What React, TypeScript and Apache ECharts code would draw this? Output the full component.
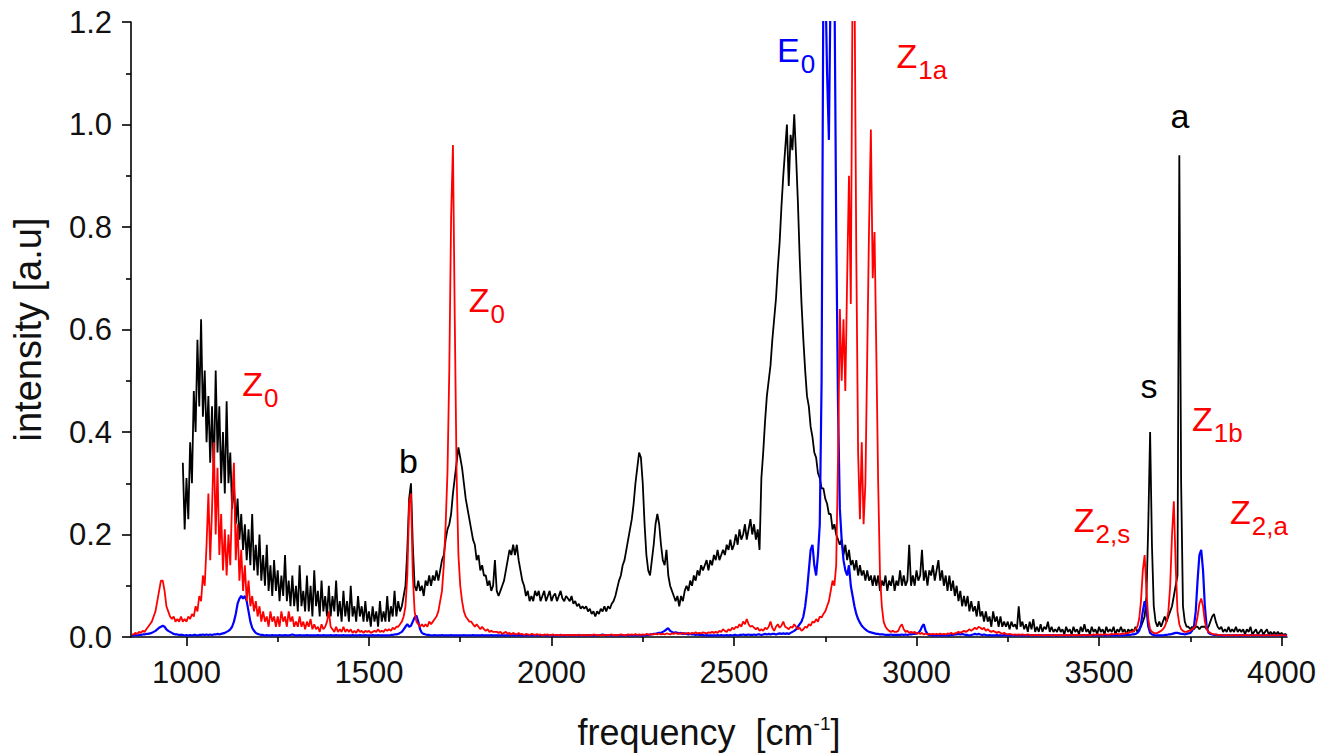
import React, { useEffect, useRef } from "react";
import * as echarts from "echarts";

// sampling grid (cm^-1)
const STEP = 5;
const blackStart = 990;
const redStart = 850;
const blueStart = 850;

// black spectrum, 990 .. 4015 cm^-1, one value per 5 cm^-1 (rows of 100 cm^-1)
const blackIntensity = [
  0.34, 0.21, 0.31, 0.23, 0.38, 0.30, 0.48, 0.40, 0.58, 0.45, 0.62, 0.43, 0.52, 0.38, 0.47, 0.34, 0.45, 0.31, 0.52, 0.36,
  0.45, 0.30, 0.40, 0.28, 0.46, 0.30, 0.36, 0.25, 0.30, 0.22, 0.27, 0.19, 0.24, 0.17, 0.22, 0.15, 0.21, 0.14, 0.24, 0.13,
  0.18, 0.12, 0.20, 0.11, 0.16, 0.10, 0.18, 0.09, 0.14, 0.08, 0.15, 0.09, 0.13, 0.07, 0.12, 0.08, 0.16, 0.07, 0.11, 0.06,
  0.12, 0.06, 0.10, 0.05, 0.14, 0.06, 0.09, 0.05, 0.12, 0.05, 0.10, 0.04, 0.13, 0.06, 0.09, 0.04, 0.11, 0.05, 0.08, 0.04,
  0.10, 0.04, 0.08, 0.05, 0.11, 0.04, 0.07, 0.03, 0.09, 0.04, 0.07, 0.03, 0.10, 0.04, 0.06, 0.03, 0.08, 0.04, 0.06, 0.03,
  0.07, 0.03, 0.05, 0.02, 0.06, 0.03, 0.05, 0.02, 0.07, 0.03, 0.05, 0.03, 0.08, 0.03, 0.06, 0.04, 0.09, 0.04, 0.07, 0.05,
  0.06, 0.08, 0.10, 0.17, 0.27, 0.30, 0.18, 0.10, 0.09, 0.11, 0.09, 0.10, 0.08, 0.11, 0.10, 0.12, 0.10, 0.12, 0.11, 0.13,
  0.11, 0.13, 0.15, 0.16, 0.19, 0.21, 0.22, 0.24, 0.28, 0.31, 0.34, 0.37, 0.35, 0.33, 0.30, 0.27, 0.25, 0.23, 0.21, 0.19,
  0.18, 0.15, 0.16, 0.13, 0.14, 0.12, 0.12, 0.10, 0.11, 0.09, 0.10, 0.15, 0.09, 0.08, 0.09, 0.10, 0.11, 0.13, 0.15, 0.17,
  0.16, 0.18, 0.16, 0.18, 0.15, 0.13, 0.11, 0.10, 0.08, 0.09, 0.07, 0.08, 0.07, 0.09, 0.08, 0.09, 0.07, 0.08, 0.09, 0.07,
  0.08, 0.09, 0.07, 0.08, 0.085, 0.07, 0.08, 0.09, 0.075, 0.07, 0.08, 0.075, 0.07, 0.08, 0.065, 0.07, 0.06, 0.065, 0.055, 0.06,
  0.055, 0.06, 0.05, 0.055, 0.045, 0.05, 0.04, 0.05, 0.045, 0.055, 0.05, 0.06, 0.05, 0.06, 0.055, 0.065, 0.07, 0.08, 0.095, 0.11,
  0.12, 0.14, 0.15, 0.17, 0.19, 0.21, 0.23, 0.26, 0.30, 0.33, 0.36, 0.35, 0.30, 0.22, 0.16, 0.13, 0.12, 0.15, 0.18, 0.22,
  0.24, 0.22, 0.18, 0.15, 0.14, 0.17, 0.12, 0.10, 0.09, 0.08, 0.07, 0.08, 0.06, 0.08, 0.07, 0.09, 0.10, 0.09, 0.11, 0.10,
  0.12, 0.11, 0.13, 0.12, 0.14, 0.13, 0.14, 0.15, 0.13, 0.15, 0.14, 0.16, 0.15, 0.17, 0.15, 0.16, 0.17, 0.16, 0.18, 0.17,
  0.19, 0.17, 0.18, 0.20, 0.18, 0.21, 0.19, 0.20, 0.22, 0.19, 0.21, 0.23, 0.20, 0.22, 0.19, 0.21, 0.17, 0.31, 0.36, 0.42,
  0.47, 0.50, 0.53, 0.58, 0.62, 0.66, 0.72, 0.77, 0.84, 0.90, 0.95, 1.00, 0.88, 0.98, 0.95, 1.02, 0.94, 0.85, 0.74, 0.65,
  0.58, 0.52, 0.47, 0.45, 0.41, 0.39, 0.36, 0.35, 0.32, 0.31, 0.29, 0.29, 0.27, 0.26, 0.24, 0.24, 0.21, 0.22, 0.20, 0.19,
  0.18, 0.19, 0.16, 0.18, 0.15, 0.17, 0.14, 0.15, 0.13, 0.15, 0.12, 0.14, 0.12, 0.13, 0.11, 0.13, 0.11, 0.12, 0.10, 0.12,
  0.10, 0.12, 0.09, 0.11, 0.10, 0.12, 0.09, 0.11, 0.10, 0.12, 0.09, 0.11, 0.10, 0.13, 0.10, 0.12, 0.10, 0.11, 0.18, 0.10,
  0.12, 0.10, 0.13, 0.11, 0.12, 0.17, 0.11, 0.13, 0.10, 0.13, 0.12, 0.14, 0.11, 0.13, 0.15, 0.11, 0.13, 0.10, 0.12, 0.09,
  0.12, 0.09, 0.11, 0.08, 0.10, 0.07, 0.09, 0.06, 0.08, 0.06, 0.08, 0.05, 0.07, 0.05, 0.06, 0.04, 0.07, 0.04, 0.05, 0.03,
  0.05, 0.03, 0.04, 0.02, 0.05, 0.03, 0.04, 0.02, 0.04, 0.02, 0.03, 0.02, 0.03, 0.015, 0.03, 0.02, 0.025, 0.015, 0.06, 0.02,
  0.03, 0.015, 0.025, 0.01, 0.03, 0.015, 0.035, 0.01, 0.02, 0.01, 0.025, 0.01, 0.02, 0.015, 0.03, 0.01, 0.02, 0.01, 0.015, 0.01,
  0.02, 0.01, 0.015, 0.005, 0.02, 0.01, 0.015, 0.005, 0.02, 0.01, 0.015, 0.005, 0.02, 0.01, 0.025, 0.01, 0.015, 0.005, 0.02, 0.01,
  0.015, 0.005, 0.02, 0.01, 0.015, 0.005, 0.02, 0.01, 0.015, 0.01, 0.02, 0.005, 0.015, 0.01, 0.02, 0.01, 0.015, 0.005, 0.015, 0.01,
  0.015, 0.01, 0.02, 0.01, 0.015, 0.02, 0.03, 0.04, 0.08, 0.22, 0.40, 0.18, 0.06, 0.03, 0.02, 0.03, 0.02, 0.03, 0.04, 0.03,
  0.04, 0.05, 0.06, 0.08, 0.10, 0.12, 0.94, 0.30, 0.06, 0.03, 0.02, 0.02, 0.015, 0.02, 0.015, 0.02, 0.02, 0.015, 0.02, 0.02,
  0.02, 0.015, 0.02, 0.03, 0.04, 0.045, 0.03, 0.02, 0.015, 0.02, 0.01, 0.015, 0.01, 0.02, 0.01, 0.015, 0.01, 0.02, 0.01, 0.015,
  0.01, 0.015, 0.005, 0.015, 0.01, 0.02, 0.005, 0.01, 0.015, 0.005, 0.01, 0.015, 0.005, 0.01, 0.015, 0.005, 0.01, 0.005, 0.01, 0.005,
  0.01, 0.005, 0.008, 0.004, 0.006, 0.004,
];

// red spectrum, 850 .. 4015 cm^-1
const redIntensity = [
  0.005, 0.005, 0.008, 0.006, 0.01, 0.008, 0.012, 0.01, 0.015, 0.02, 0.025, 0.03, 0.04, 0.05, 0.07, 0.09, 0.11, 0.11, 0.09, 0.06,
  0.05, 0.04, 0.035, 0.04, 0.03, 0.035, 0.03, 0.04, 0.03, 0.035, 0.03, 0.04, 0.035, 0.045, 0.04, 0.06, 0.05, 0.08, 0.07, 0.12,
  0.10, 0.18, 0.28, 0.15, 0.25, 0.38, 0.20, 0.33, 0.16, 0.24, 0.13, 0.21, 0.12, 0.20, 0.14, 0.27, 0.34, 0.15, 0.22, 0.11,
  0.17, 0.09, 0.14, 0.07, 0.11, 0.06, 0.08, 0.05, 0.07, 0.04, 0.06, 0.03, 0.05, 0.03, 0.04, 0.02, 0.05, 0.03, 0.04, 0.02,
  0.04, 0.02, 0.05, 0.03, 0.04, 0.02, 0.05, 0.03, 0.04, 0.02, 0.03, 0.02, 0.04, 0.02, 0.03, 0.015, 0.03, 0.02, 0.035, 0.015,
  0.025, 0.015, 0.02, 0.01, 0.025, 0.015, 0.02, 0.03, 0.05, 0.02, 0.015, 0.01, 0.02, 0.01, 0.015, 0.01, 0.02, 0.01, 0.015, 0.01,
  0.015, 0.008, 0.012, 0.008, 0.015, 0.01, 0.012, 0.008, 0.012, 0.01, 0.012, 0.008, 0.01, 0.012, 0.01, 0.015, 0.01, 0.012, 0.01, 0.015,
  0.012, 0.015, 0.012, 0.018, 0.015, 0.02, 0.02, 0.025, 0.03, 0.04, 0.06, 0.12, 0.26, 0.28, 0.12, 0.05, 0.03, 0.025, 0.02, 0.025,
  0.02, 0.025, 0.02, 0.03, 0.025, 0.03, 0.035, 0.04, 0.05, 0.07, 0.09, 0.14, 0.22, 0.32, 0.52, 0.82, 0.96, 0.62, 0.32, 0.16,
  0.10, 0.07, 0.05, 0.04, 0.035, 0.03, 0.03, 0.025, 0.02, 0.025, 0.02, 0.015, 0.02, 0.015, 0.012, 0.015, 0.01, 0.012, 0.01, 0.01,
  0.01, 0.008, 0.01, 0.006, 0.008, 0.01, 0.006, 0.008, 0.005, 0.008, 0.006, 0.005, 0.008, 0.005, 0.006, 0.004, 0.006, 0.005, 0.004, 0.006,
  0.005, 0.004, 0.006, 0.004, 0.005, 0.003, 0.005, 0.004, 0.005, 0.003, 0.004, 0.005, 0.003, 0.004, 0.003, 0.005, 0.003, 0.004, 0.003, 0.004,
  0.003, 0.004, 0.003, 0.004, 0.003, 0.005, 0.003, 0.004, 0.003, 0.004, 0.003, 0.004, 0.003, 0.005, 0.004, 0.003, 0.004, 0.003, 0.004, 0.003,
  0.004, 0.003, 0.004, 0.005, 0.003, 0.004, 0.003, 0.004, 0.005, 0.004, 0.003, 0.004, 0.005, 0.004, 0.005, 0.004, 0.006, 0.004, 0.005, 0.004,
  0.005, 0.004, 0.006, 0.005, 0.004, 0.006, 0.005, 0.006, 0.005, 0.007, 0.005, 0.006, 0.005, 0.007, 0.006, 0.005, 0.007, 0.006, 0.008, 0.006,
  0.007, 0.006, 0.008, 0.006, 0.007, 0.008, 0.006, 0.008, 0.007, 0.009, 0.007, 0.008, 0.007, 0.009, 0.008, 0.007, 0.009, 0.008, 0.01, 0.008,
  0.01, 0.008, 0.012, 0.01, 0.015, 0.012, 0.01, 0.015, 0.012, 0.018, 0.015, 0.02, 0.018, 0.025, 0.02, 0.03, 0.025, 0.035, 0.025, 0.02,
  0.022, 0.018, 0.015, 0.018, 0.012, 0.015, 0.012, 0.018, 0.015, 0.02, 0.03, 0.018, 0.012, 0.02, 0.025, 0.018, 0.022, 0.03, 0.02, 0.018,
  0.015, 0.02, 0.018, 0.025, 0.02, 0.015, 0.018, 0.012, 0.015, 0.02, 0.018, 0.025, 0.022, 0.03, 0.028, 0.035, 0.03, 0.04, 0.038, 0.045,
  0.05, 0.06, 0.07, 0.09, 0.11, 0.10, 0.14, 0.35, 0.64, 0.50, 0.62, 0.48, 0.70, 0.90, 0.65, 1.3, 1.3, 0.75, 0.36, 0.23,
  0.38, 0.22, 0.30, 0.55, 0.80, 0.99, 0.70, 0.79, 0.55, 0.30, 0.12, 0.06, 0.03, 0.02, 0.015, 0.012, 0.01, 0.012, 0.01, 0.01,
  0.012, 0.02, 0.025, 0.015, 0.01, 0.012, 0.008, 0.01, 0.008, 0.01, 0.006, 0.008, 0.006, 0.008, 0.005, 0.007, 0.005, 0.006, 0.005, 0.006,
  0.005, 0.006, 0.005, 0.007, 0.005, 0.006, 0.005, 0.007, 0.006, 0.008, 0.006, 0.007, 0.008, 0.01, 0.008, 0.01, 0.012, 0.01, 0.012, 0.015,
  0.012, 0.015, 0.018, 0.015, 0.02, 0.018, 0.015, 0.018, 0.012, 0.015, 0.012, 0.01, 0.012, 0.01, 0.008, 0.01, 0.008, 0.006, 0.008, 0.006,
  0.005, 0.006, 0.005, 0.004, 0.005, 0.004, 0.005, 0.004, 0.005, 0.004, 0.004, 0.005, 0.004, 0.003, 0.004, 0.003, 0.004, 0.003, 0.004, 0.003,
  0.003, 0.004, 0.003, 0.004, 0.003, 0.003, 0.004, 0.003, 0.004, 0.003, 0.003, 0.004, 0.003, 0.004, 0.003, 0.004, 0.003, 0.004, 0.003, 0.004,
  0.003, 0.004, 0.003, 0.004, 0.004, 0.003, 0.004, 0.005, 0.004, 0.005, 0.004, 0.005, 0.004, 0.005, 0.005, 0.004, 0.005, 0.006, 0.005, 0.006,
  0.006, 0.005, 0.006, 0.007, 0.006, 0.008, 0.007, 0.01, 0.01, 0.012, 0.015, 0.02, 0.035, 0.07, 0.13, 0.16, 0.09, 0.035, 0.015, 0.01,
  0.008, 0.007, 0.008, 0.01, 0.012, 0.015, 0.02, 0.03, 0.05, 0.10, 0.20, 0.265, 0.14, 0.05, 0.025, 0.015, 0.012, 0.01, 0.01, 0.012,
  0.012, 0.015, 0.018, 0.022, 0.04, 0.065, 0.075, 0.06, 0.03, 0.015, 0.01, 0.008, 0.006, 0.005, 0.005, 0.004, 0.004, 0.004, 0.003, 0.003,
  0.003, 0.004, 0.003, 0.003, 0.004, 0.003, 0.003, 0.004, 0.003, 0.003, 0.004, 0.003, 0.003, 0.003, 0.004, 0.003, 0.003, 0.004, 0.003, 0.003,
  0.003, 0.003, 0.004, 0.003, 0.003, 0.003, 0.004, 0.003, 0.003, 0.003, 0.004, 0.003, 0.003, 0.003,
];

// blue spectrum, 850 .. 4015 cm^-1
const blueIntensity = [
  0.003, 0.003, 0.004, 0.003, 0.004, 0.004, 0.005, 0.005, 0.006, 0.006, 0.007, 0.008, 0.01, 0.012, 0.015, 0.018, 0.02, 0.022, 0.02, 0.015,
  0.012, 0.01, 0.008, 0.006, 0.005, 0.005, 0.004, 0.004, 0.004, 0.003, 0.004, 0.003, 0.004, 0.003, 0.004, 0.004, 0.003, 0.004, 0.004, 0.005,
  0.004, 0.005, 0.004, 0.005, 0.004, 0.005, 0.005, 0.006, 0.005, 0.006, 0.007, 0.008, 0.01, 0.012, 0.015, 0.02, 0.03, 0.045, 0.065, 0.075,
  0.08, 0.075, 0.08, 0.07, 0.05, 0.03, 0.018, 0.012, 0.008, 0.006, 0.005, 0.004, 0.004, 0.003, 0.004, 0.003, 0.003, 0.004, 0.003, 0.003,
  0.003, 0.004, 0.003, 0.003, 0.004, 0.003, 0.003, 0.004, 0.005, 0.004, 0.003, 0.003, 0.004, 0.003, 0.003, 0.003, 0.004, 0.003, 0.003, 0.003,
  0.003, 0.003, 0.004, 0.003, 0.003, 0.004, 0.003, 0.003, 0.003, 0.004, 0.003, 0.003, 0.004, 0.003, 0.003, 0.003, 0.004, 0.003, 0.003, 0.003,
  0.003, 0.004, 0.003, 0.003, 0.003, 0.004, 0.003, 0.003, 0.004, 0.003, 0.003, 0.003, 0.004, 0.003, 0.003, 0.004, 0.003, 0.003, 0.003, 0.003,
  0.003, 0.003, 0.004, 0.004, 0.005, 0.005, 0.006, 0.008, 0.01, 0.015, 0.02, 0.025, 0.02, 0.022, 0.03, 0.038, 0.042, 0.03, 0.015, 0.008,
  0.006, 0.005, 0.004, 0.004, 0.003, 0.003, 0.004, 0.003, 0.003, 0.003, 0.004, 0.003, 0.003, 0.003, 0.003, 0.004, 0.003, 0.003, 0.003, 0.003,
  0.003, 0.003, 0.004, 0.003, 0.003, 0.003, 0.003, 0.004, 0.003, 0.003, 0.003, 0.003, 0.004, 0.003, 0.003, 0.003, 0.003, 0.004, 0.003, 0.003,
  0.003, 0.003, 0.003, 0.004, 0.003, 0.003, 0.003, 0.003, 0.004, 0.003, 0.003, 0.003, 0.004, 0.003, 0.003, 0.003, 0.003, 0.004, 0.003, 0.003,
  0.003, 0.004, 0.003, 0.003, 0.003, 0.003, 0.004, 0.003, 0.003, 0.003, 0.004, 0.003, 0.003, 0.003, 0.003, 0.004, 0.003, 0.003, 0.003, 0.004,
  0.003, 0.003, 0.003, 0.004, 0.003, 0.003, 0.003, 0.004, 0.003, 0.003, 0.004, 0.003, 0.003, 0.003, 0.004, 0.003, 0.003, 0.004, 0.005, 0.004,
  0.003, 0.003, 0.004, 0.003, 0.003, 0.004, 0.003, 0.003, 0.004, 0.003, 0.003, 0.004, 0.003, 0.003, 0.004, 0.003, 0.004, 0.003, 0.004, 0.003,
  0.003, 0.003, 0.004, 0.004, 0.005, 0.005, 0.006, 0.006, 0.007, 0.008, 0.008, 0.01, 0.012, 0.015, 0.017, 0.012, 0.01, 0.008, 0.009, 0.008,
  0.007, 0.008, 0.006, 0.007, 0.006, 0.005, 0.006, 0.005, 0.005, 0.004, 0.005, 0.004, 0.004, 0.004, 0.003, 0.004, 0.003, 0.003, 0.003, 0.003,
  0.003, 0.004, 0.003, 0.004, 0.003, 0.003, 0.004, 0.003, 0.004, 0.003, 0.004, 0.004, 0.003, 0.004, 0.004, 0.005, 0.004, 0.004, 0.005, 0.004,
  0.004, 0.005, 0.004, 0.005, 0.005, 0.004, 0.005, 0.006, 0.005, 0.006, 0.005, 0.006, 0.006, 0.005, 0.006, 0.007, 0.006, 0.007, 0.006, 0.007,
  0.006, 0.008, 0.01, 0.012, 0.015, 0.02, 0.025, 0.03, 0.04, 0.06, 0.09, 0.13, 0.17, 0.18, 0.14, 0.12, 0.16, 0.22, 0.5, 1.3,
  1.3, 1.1, 0.97, 1.3, 1.3, 1.3, 0.8, 0.45, 0.25, 0.19, 0.15, 0.13, 0.12, 0.14, 0.1, 0.08, 0.06, 0.045, 0.035, 0.028,
  0.022, 0.018, 0.015, 0.012, 0.01, 0.009, 0.008, 0.007, 0.006, 0.006, 0.005, 0.005, 0.005, 0.004, 0.004, 0.004, 0.005, 0.004, 0.004, 0.004,
  0.004, 0.004, 0.005, 0.004, 0.005, 0.004, 0.005, 0.005, 0.006, 0.006, 0.007, 0.008, 0.012, 0.02, 0.025, 0.012, 0.006, 0.004, 0.004, 0.003,
  0.003, 0.003, 0.004, 0.003, 0.003, 0.003, 0.004, 0.003, 0.003, 0.004, 0.004, 0.005, 0.005, 0.006, 0.005, 0.006, 0.005, 0.004, 0.004, 0.003,
  0.004, 0.005, 0.006, 0.005, 0.006, 0.005, 0.004, 0.005, 0.004, 0.003, 0.004, 0.003, 0.003, 0.003, 0.004, 0.003, 0.003, 0.003, 0.004, 0.003,
  0.003, 0.003, 0.004, 0.003, 0.003, 0.003, 0.004, 0.003, 0.003, 0.003, 0.004, 0.003, 0.003, 0.004, 0.003, 0.003, 0.003, 0.004, 0.003, 0.003,
  0.003, 0.004, 0.003, 0.003, 0.003, 0.004, 0.003, 0.003, 0.004, 0.003, 0.003, 0.003, 0.004, 0.003, 0.003, 0.003, 0.004, 0.003, 0.003, 0.003,
  0.003, 0.003, 0.004, 0.003, 0.003, 0.004, 0.003, 0.003, 0.003, 0.004, 0.003, 0.003, 0.004, 0.003, 0.003, 0.003, 0.004, 0.003, 0.003, 0.003,
  0.003, 0.003, 0.003, 0.003, 0.003, 0.004, 0.004, 0.004, 0.005, 0.005, 0.006, 0.008, 0.012, 0.025, 0.05, 0.07, 0.055, 0.02, 0.008, 0.005,
  0.004, 0.003, 0.003, 0.003, 0.003, 0.003, 0.004, 0.004, 0.005, 0.005, 0.006, 0.007, 0.008, 0.008, 0.007, 0.006, 0.006, 0.005, 0.006, 0.007,
  0.008, 0.012, 0.02, 0.05, 0.11, 0.16, 0.17, 0.13, 0.06, 0.02, 0.008, 0.006, 0.005, 0.004, 0.004, 0.004, 0.003, 0.003, 0.003, 0.003,
  0.003, 0.004, 0.003, 0.003, 0.003, 0.004, 0.003, 0.003, 0.003, 0.004, 0.003, 0.003, 0.003, 0.004, 0.003, 0.003, 0.003, 0.004, 0.003, 0.003,
  0.003, 0.003, 0.004, 0.003, 0.003, 0.003, 0.004, 0.003, 0.003, 0.003, 0.004, 0.003, 0.003, 0.003,
];

const xMajorTicks = [1000, 1500, 2000, 2500, 3000, 3500, 4000];
const X_MIN = 848;
const X_MAX = 4015;

const RED = "#ff0000";
const BLUE = "#0000ff";
const BLACK = "#000000";

// peak labels: left edge frequency, baseline intensity
const noteMain = ["Z", "b", "Z", "E", "Z", "a", "s", "Z", "Z", "Z"];
const noteSub = ["0", "", "0", "0", "1a", "", "", "1b", "2,s", "2,a"];
const noteFreq = [1153, 1582, 1773, 2618, 2945, 3696, 3614, 3755, 3431, 3859];
const noteBase = [0.47, 0.32, 0.635, 1.122, 1.11, 0.994, 0.466, 0.402, 0.204, 0.22];
const noteColor = [RED, BLACK, RED, BLUE, RED, BLACK, BLACK, RED, RED, RED];

const FONT = '"Liberation Sans", Arial, Helvetica, sans-serif';

function toPairs(start: number, vals: number[]) {
  return vals.map((v, i) => [start + i * STEP, v]);
}

export default function App() {
  const ref = useRef<HTMLDivElement>(null);

  useEffect(() => {
    if (!ref.current) return;
    const chart = echarts.init(ref.current, null, { renderer: "svg" });
    const axisLine = { color: BLACK, width: 1.6 };
    const option: any = {
      animation: false,
      backgroundColor: "#ffffff",
      grid: { left: 131, right: 26, top: 22, bottom: 115, containLabel: false },
      xAxis: {
        type: "value",
        min: X_MIN,
        max: X_MAX,
        position: "bottom",
        splitLine: { show: false },
        axisLine: { show: true, onZero: false, lineStyle: axisLine },
        axisTick: { show: true, inside: false, length: 9, customValues: xMajorTicks, lineStyle: axisLine },
        minorTick: { show: true, splitNumber: 2, length: 5, lineStyle: axisLine },
        axisLabel: {
          customValues: xMajorTicks,
          fontSize: 31,
          color: "#111",
          fontFamily: FONT,
          margin: 20,
          formatter: (v: number) => String(v),
        },
        name: "{m|frequency  [cm}{s|-1}{m|]}",
        nameLocation: "middle",
        nameGap: 77,
        nameTextStyle: {
          fontFamily: FONT,
          fontSize: 36,
          color: "#111",
          rich: {
            m: { fontFamily: FONT, fontSize: 36, lineHeight: 36, color: "#111", verticalAlign: "top" },
            s: { fontFamily: FONT, fontSize: 19, lineHeight: 19, color: "#111", verticalAlign: "top" },
          },
        },
      },
      yAxis: {
        type: "value",
        min: 0,
        max: 1.2,
        interval: 0.2,
        splitLine: { show: false },
        axisLine: { show: true, onZero: false, lineStyle: axisLine },
        axisTick: { show: true, inside: false, length: 9, lineStyle: axisLine },
        minorTick: { show: true, splitNumber: 2, length: 5, lineStyle: axisLine },
        axisLabel: {
          fontSize: 31,
          color: "#111",
          fontFamily: FONT,
          margin: 19,
          formatter: (v: number) => v.toFixed(1),
        },
        name: "intensity [a.u]",
        nameLocation: "middle",
        nameGap: 84,
        nameTextStyle: { fontFamily: FONT, fontSize: 38, color: "#111" },
      },
      series: [
        {
          type: "line",
          name: "black",
          data: toPairs(blackStart, blackIntensity),
          showSymbol: false,
          symbol: "none",
          lineStyle: { color: BLACK, width: 1.8 },
          itemStyle: { color: BLACK },
          z: 2,
        },
        {
          type: "line",
          name: "blue",
          data: toPairs(blueStart, blueIntensity),
          showSymbol: false,
          symbol: "none",
          lineStyle: { color: BLUE, width: 2.2 },
          itemStyle: { color: BLUE },
          z: 3,
        },
        {
          type: "line",
          name: "red",
          data: toPairs(redStart, redIntensity),
          showSymbol: false,
          symbol: "none",
          lineStyle: { color: RED, width: 1.8 },
          itemStyle: { color: RED },
          z: 4,
        },
      ],
    };
    chart.setOption(option);

    const graphics = noteMain.map((m, i) => {
      const p = chart.convertToPixel({ seriesIndex: 2 }, [noteFreq[i], noteBase[i]]) as number[];
      const c = noteColor[i];
      const text = noteSub[i] ? `{m|${m}}{s|${noteSub[i]}}` : `{m|${m}}`;
      return {
        type: "text",
        x: p[0],
        y: p[1] - 29,
        z: 10,
        style: {
          text,
          fill: c,
          align: "left",
          verticalAlign: "top",
          rich: {
            m: { fontFamily: FONT, fontSize: 34, lineHeight: 34, fill: c, verticalAlign: "top" },
            s: { fontFamily: FONT, fontSize: 26, lineHeight: 26, fill: c, verticalAlign: "top", padding: [18, 0, 0, 1] },
          },
        },
      };
    });
    chart.setOption({ graphic: graphics });

    return () => {
      chart.dispose();
    };
  }, []);

  return (
    <div
      ref={ref}
      style={{ position: "fixed", left: 0, top: 0, width: 1319, height: 755, background: "#fff" }}
    />
  );
}
